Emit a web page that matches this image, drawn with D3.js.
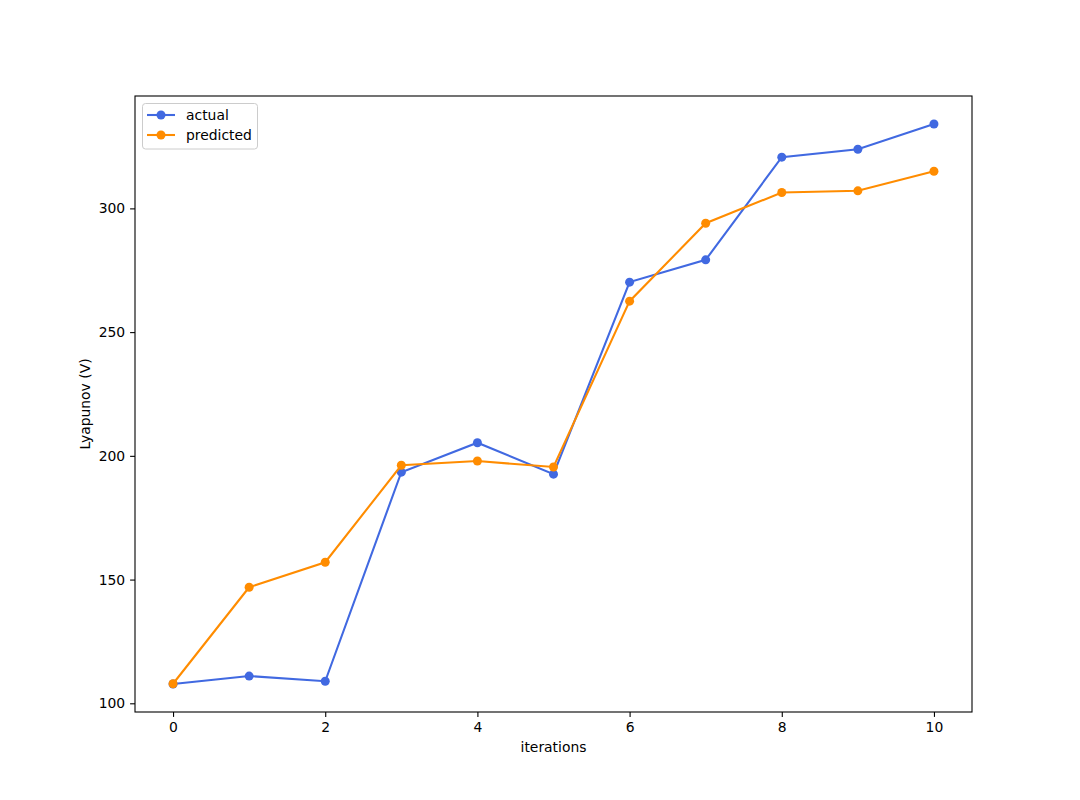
<!DOCTYPE html>
<html><head><meta charset="utf-8">
<script src="https://cdn.jsdelivr.net/npm/d3@7"></script>
<style>body{margin:0;background:#fff}svg text{font-family:"DejaVu Sans",sans-serif}</style>
</head><body><svg id="c" width="1080" height="800"></svg>
<script>
const iterations = [0,1,2,3,4,5,6,7,8,9,10];
const actual = [107.8,111.0,108.9,193.4,205.3,192.6,270.2,279.2,320.7,323.9,334.1];
const predicted = [107.9,146.9,157.0,196.2,197.9,195.5,262.5,294.0,306.4,307.1,315.0];
const xTicks = [0,2,4,6,8,10];
const yTicks = [100,150,200,250,300];
const seriesNames = ["actual","predicted"];
const seriesColors = ["#4169e1","#ff8c00"];

const svg = d3.select("#c");
const L=135,R=972,T=96,B=712;
const all = actual.concat(predicted);
const ymin=d3.min(all), ymax=d3.max(all), pad=(ymax-ymin)*0.05;
const x = d3.scaleLinear().domain([-0.5,10.5]).range([L,R]);
const y = d3.scaleLinear().domain([ymin-pad,ymax+pad]).range([B,T]);

const xa = svg.append("g").attr("transform",`translate(0,${B})`)
  .call(d3.axisBottom(x).tickValues(xTicks).tickSize(4.9).tickPadding(4.9).tickFormat(d3.format("d")));
const ya = svg.append("g").attr("transform",`translate(${L},0)`)
  .call(d3.axisLeft(y).tickValues(yTicks).tickSize(4.9).tickPadding(4.9).tickFormat(d3.format("d")));
[xa,ya].forEach(a=>{a.select(".domain").remove();a.selectAll("line").attr("stroke","#000").attr("stroke-width",1.1);
  a.selectAll("text").attr("font-size","13.9px").attr("fill","#000").attr("font-family","DejaVu Sans");});

const series=[actual,predicted];
series.forEach((s,i)=>{
  const line=d3.line().x((d,j)=>x(iterations[j])).y(d=>y(d));
  svg.append("path").datum(s).attr("d",line).attr("fill","none").attr("stroke",seriesColors[i]).attr("stroke-width",2.08);
  svg.append("g").selectAll("circle").data(s).join("circle")
    .attr("cx",(d,j)=>x(iterations[j])).attr("cy",d=>y(d)).attr("r",4.5).attr("fill",seriesColors[i]);
});

svg.append("rect").attr("x",L).attr("y",T).attr("width",R-L).attr("height",B-T)
  .attr("fill","none").attr("stroke","#000").attr("stroke-width",1.1);

svg.append("text").attr("x",(L+R)/2).attr("y",752).attr("text-anchor","middle").attr("font-size","13.9px").text("iterations");
svg.append("text").attr("transform",`translate(90,${(T+B)/2}) rotate(-90)`).attr("text-anchor","middle").attr("font-size","13.9px").text("Lyapunov (V)");

const lg=svg.append("g");
lg.append("rect").attr("x",142.5).attr("y",103.5).attr("width",115).attr("height",45.5).attr("rx",3)
  .attr("fill","#fff").attr("fill-opacity",0.8).attr("stroke","#ccc").attr("stroke-width",1);
seriesNames.forEach((n,i)=>{
  const yy=115+i*20;
  lg.append("line").attr("x1",147).attr("x2",175).attr("y1",yy).attr("y2",yy).attr("stroke",seriesColors[i]).attr("stroke-width",2.08);
  lg.append("circle").attr("cx",161).attr("cy",yy).attr("r",4.5).attr("fill",seriesColors[i]);
  lg.append("text").attr("x",186).attr("y",yy+5).attr("font-size","13.9px").text(n);
});
</script></body></html>
